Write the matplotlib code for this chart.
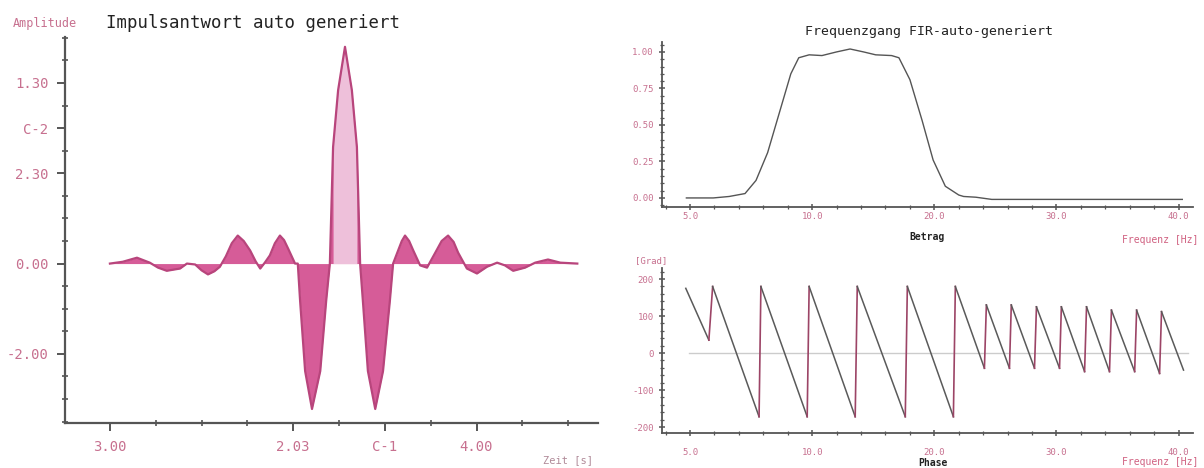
import matplotlib.pyplot as plt
from matplotlib.ticker import FixedLocator, FixedFormatter, MultipleLocator
import numpy as np

# Impulsantwort
t = [0.00, 0.28, 0.59, 0.87, 1.05, 1.24, 1.53, 1.68, 1.86, 2.00, 2.14, 2.28, 2.40,
     2.53, 2.66, 2.79, 2.92, 3.06, 3.18, 3.28, 3.38, 3.49, 3.60, 3.71, 3.80, 3.89,
     4.04, 4.10, 4.15, 4.26, 4.41, 4.59, 4.72, 4.80, 4.87, 4.98, 5.13, 5.28, 5.39,
     5.46, 5.52, 5.63, 5.79, 5.96, 6.11, 6.18, 6.29, 6.37, 6.44, 6.53, 6.62, 6.77,
     6.92, 7.10, 7.24, 7.38, 7.50, 7.60, 7.79, 8.01, 8.23, 8.45, 8.62, 8.80, 9.06,
     9.28, 9.56, 9.83, 10.20]
amp = [0.00, 0.04, 0.13, 0.02, -0.09, -0.16, -0.11, 0.00, -0.02, -0.15, -0.24, -0.17, -0.07,
       0.16, 0.45, 0.62, 0.50, 0.29, 0.05, -0.11, 0.02, 0.18, 0.45, 0.62, 0.52, 0.33,
       0.00, 0.00, -0.82, -2.38, -3.22, -2.38, -0.82, 0.00, 2.58, 3.84, 4.80, 3.84, 2.58,
       0.00, -0.82, -2.38, -3.22, -2.38, -0.82, 0.00, 0.29, 0.50, 0.62, 0.50, 0.29, -0.04,
       -0.09, 0.24, 0.50, 0.62, 0.48, 0.24, -0.11, -0.22, -0.07, 0.02, -0.04, -0.16, -0.09,
       0.02, 0.09, 0.02, 0.00]
imp_yticks = [4, 3, 2, 0, -2]
imp_ylabels = ['1.30', 'C-2', '2.30', '0.00', '-2.00']
imp_xticks = [0, 4, 6, 8]
imp_xlabels = ['3.00', '2.03', 'C-1', '4.00']

# Frequenzgang Betrag
freq = [-0.3, 1.9, 3.2, 4.5, 5.4, 6.35, 7.3, 8.25, 8.9, 9.75, 10.8, 12.0, 13.1,
        14.2, 15.2, 16.5, 17.1, 18.0, 19.0, 19.9, 20.9, 22.0, 22.4, 23.4, 24.7,
        26.0, 30.3, 40.3]
mag = [0.0, 0.0, 0.01, 0.03, 0.12, 0.31, 0.58, 0.85, 0.96, 0.98, 0.975, 1.00, 1.02,
       1.00, 0.98, 0.975, 0.96, 0.81, 0.53, 0.26, 0.08, 0.02, 0.01, 0.005, -0.01,
       -0.01, -0.01, -0.01]
f_ticks = [0, 10, 20, 30, 40]
f_labels = ['5.0', '10.0', '20.0', '30.0', '40.0']
mag_ticks = [0.0, 0.25, 0.5, 0.75, 1.0]
mag_labels = ['0.00', '0.25', '0.50', '0.75', '1.00']

# Phase: Segmente (Start-/Endfrequenz, Start-/Endphase in Grad)
seg_f0 = [-0.35, 1.85, 5.80, 9.75, 13.69, 17.79, 21.72, 24.26, 26.3, 28.36, 30.4, 32.46, 34.5, 36.56, 38.6]
seg_f1 = [1.54, 5.65, 9.59, 13.52, 17.62, 21.56, 24.1, 26.15, 28.2, 30.25, 32.3, 34.34, 36.4, 38.44, 40.4]
seg_p0 = [175, 180, 180, 180, 180, 180, 180, 130, 130, 125, 125, 125, 116, 116, 112]
seg_p1 = [35, -172, -172, -172, -172, -172, -41, -41, -41, -41, -50, -50, -50, -55, -46]
ph_ticks = [-200, -100, 0, 100, 200]
ph_labels = ['-200', '-100', '0', '100', '200']

fig = plt.figure(figsize=(12.04, 4.68), dpi=100)
mono = 'DejaVu Sans Mono'
pink_txt = '#c7708f'
axis_col = '#555555'

# ---------- Impulsantwort ----------
ax1 = fig.add_axes([0.054, 0.0962, 0.443, 0.825])
t_a = np.array(t)
a_a = np.array(amp)
ax1.fill_between(t_a, 0, a_a, color='#d65c98', linewidth=0)
ax1.fill_between(t_a, 0, a_a, where=a_a > 1, color='#eec0da', linewidth=0)
ax1.plot(t_a, a_a, color='#b8457c', linewidth=1.6)
ax1.set_xlim(-0.98, 10.66)
ax1.set_ylim(-3.53, 5.02)
for s in ['top', 'right']:
    ax1.spines[s].set_visible(False)
for s in ['left', 'bottom']:
    ax1.spines[s].set_color(axis_col)
    ax1.spines[s].set_linewidth(1.6)
ax1.yaxis.set_major_locator(FixedLocator(imp_yticks))
ax1.yaxis.set_major_formatter(FixedFormatter(imp_ylabels))
ax1.yaxis.set_minor_locator(MultipleLocator(0.5))
ax1.xaxis.set_major_locator(FixedLocator(imp_xticks))
ax1.xaxis.set_major_formatter(FixedFormatter(imp_xlabels))
ax1.xaxis.set_minor_locator(MultipleLocator(1))
ax1.tick_params(which='major', direction='out', length=6, width=1.4, color=axis_col,
                labelsize=10, labelcolor=pink_txt, pad=6)
ax1.tick_params(which='minor', direction='inout', length=4, width=1.2, color=axis_col)
for lab in ax1.get_xticklabels() + ax1.get_yticklabels():
    lab.set_family(mono)
fig.text(0.011, 0.949, 'Amplitude', family=mono, fontsize=8.5, color=pink_txt, va='center')
fig.text(0.21, 0.951, 'Impulsantwort auto generiert', family=mono, fontsize=12.5,
         color='#222222', ha='center', va='center')
fig.text(0.451, 0.017, 'Zeit [s]', family=mono, fontsize=7.5, color='#b08a98', va='center')

# ---------- Frequenzgang Betrag ----------
ax2 = fig.add_axes([0.5498, 0.5577, 0.4413, 0.3526])
ax2.plot(freq, mag, color='#555555', linewidth=1.0)
ax2.set_xlim(-2.3, 41.2)
ax2.set_ylim(-0.062, 1.068)
ax2.xaxis.set_major_locator(FixedLocator(f_ticks))
ax2.xaxis.set_major_formatter(FixedFormatter(f_labels))
ax2.xaxis.set_minor_locator(MultipleLocator(2))
ax2.yaxis.set_major_locator(FixedLocator(mag_ticks))
ax2.yaxis.set_major_formatter(FixedFormatter(mag_labels))
ax2.yaxis.set_minor_locator(MultipleLocator(0.05))
ax2.tick_params(axis='x', which='major', pad=1)
fig.text(0.5555 + 0.216, 0.932, 'Frequenzgang FIR-auto-generiert', family=mono,
         fontsize=9.5, color='#222222', ha='center', va='center')
fig.text(0.77, 0.494, 'Betrag', family=mono, fontsize=7, fontweight='bold',
         color='#222222', ha='center', va='center')
fig.text(0.995, 0.488, 'Frequenz [Hz]', family=mono, fontsize=7, color='#d06080',
         ha='right', va='center')

# ---------- Phase ----------
ax3 = fig.add_axes([0.5498, 0.0748, 0.4413, 0.3526])
ax3.axhline(0, xmin=0.05, xmax=0.99, color='#cccccc', linewidth=1.0)
for i in range(len(seg_f0)):
    ax3.plot([seg_f0[i], seg_f1[i]], [seg_p0[i], seg_p1[i]], color='#5a5a5a', linewidth=1.1)
    if i + 1 < len(seg_f0):
        ax3.plot([seg_f1[i], seg_f0[i + 1]], [seg_p1[i], seg_p0[i + 1]],
                 color='#9c4466', linewidth=1.2)
ax3.set_xlim(-2.3, 41.2)
ax3.set_ylim(-216, 230)
ax3.xaxis.set_major_locator(FixedLocator(f_ticks))
ax3.xaxis.set_major_formatter(FixedFormatter(f_labels))
ax3.xaxis.set_minor_locator(MultipleLocator(2))
ax3.yaxis.set_major_locator(FixedLocator(ph_ticks))
ax3.yaxis.set_major_formatter(FixedFormatter(ph_labels))
ax3.yaxis.set_minor_locator(MultipleLocator(20))
ax3.tick_params(axis='x', which='major', pad=8)
fig.text(0.527, 0.444, '[Grad]', family=mono, fontsize=6.5, color=pink_txt, va='center')
fig.text(0.775, 0.011, 'Phase', family=mono, fontsize=7, fontweight='bold',
         color='#222222', ha='center', va='center')
fig.text(0.995, 0.013, 'Frequenz [Hz]', family=mono, fontsize=7, color='#d06080',
         ha='right', va='center')

for ax in (ax2, ax3):
    for s in ['top', 'right']:
        ax.spines[s].set_visible(False)
    for s in ['left', 'bottom']:
        ax.spines[s].set_color(axis_col)
        ax.spines[s].set_linewidth(1.3)
    ax.tick_params(which='major', direction='inout', length=5, width=1.1, color=axis_col,
                   labelsize=6.5, labelcolor=pink_txt)
    ax.tick_params(which='minor', direction='inout', length=3, width=0.9, color=axis_col)
    for lab in ax.get_xticklabels() + ax.get_yticklabels():
        lab.set_family(mono)

fig.savefig('out.png', dpi=100, facecolor='white')
